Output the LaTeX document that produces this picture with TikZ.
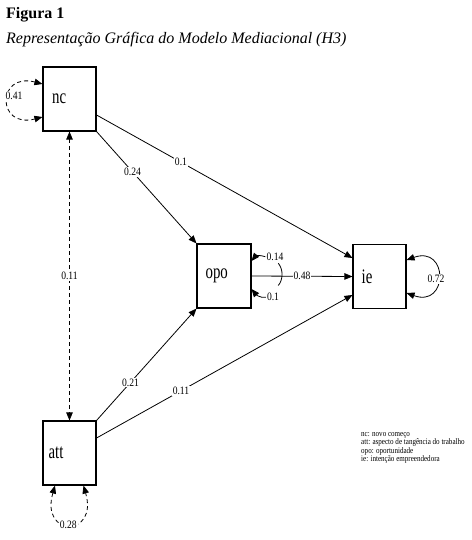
\documentclass[tikz,border=0pt]{standalone}
\usepackage{fontspec}
\setmainfont{Liberation Serif}
\newfontfamily\boxfont[FakeStretch=0.72]{Liberation Serif}
\newfontfamily\coeffont[FakeStretch=0.85]{Liberation Serif}
\newfontfamily\legfont[FakeStretch=0.83]{Liberation Serif}
\usetikzlibrary{arrows.meta,positioning}

\begin{document}
\begin{tikzpicture}[x=1pt,y=-1pt,>={Triangle[length=8pt,width=6.5pt]},
  var/.style={draw,line width=1.1pt,minimum width=53pt,minimum height=64pt,inner sep=0pt},
  vartext/.style={inner sep=0pt,font=\boxfont\fontsize{20.6}{22}\selectfont},
  coef/.style={fill=white,inner sep=1pt,font=\coeffont\fontsize{11.3}{12}\selectfont},
  effect/.style={->,line width=0.8pt},
  covar/.style={line width=0.8pt,dash pattern=on 4pt off 3pt},
  legtext/.style={anchor=base west,inner sep=0pt,font=\legfont\fontsize{8.5}{9}\selectfont}]
\useasboundingbox (0,0) rectangle (471,540);
\node[anchor=base west,inner sep=0pt,font=\bfseries\fontsize{16}{18}\selectfont] (fig) at (6,18.3) {Figura 1};
\node[anchor=base west,inner sep=0pt,font=\itshape\fontsize{16}{18}\selectfont] (tit) at (6,43.3) {Representação Gráfica do Modelo Mediacional (H3)};

\node[var] (nc) at (69.5,99) {};
\node[var] (att) at (69.5,453) {};
\node[var,minimum width=54pt] (opo) at (224,276) {};
\node[var] (ie) at (379.5,276.5) {};
\node[vartext,right=9.5pt of nc.west] (nc-t) {nc};
\node[vartext,right=6pt of att.west] (att-t) {att};
\node[vartext,right=9pt of opo.west] (opo-t) {opo};
\node[vartext,right=9pt of ie.west] (ie-t) {ie};

\draw[effect] (nc.south east) -- (opo.north west) node[coef,pos=0.36] {0.24};
\draw[effect] ([yshift=-16pt]nc.east) -- ([yshift=18.5pt]ie.west) node[coef,pos=0.33] {0.1};
\draw[effect] (opo.east) -- (ie.west) node[coef,midway] {0.48};
\draw[effect] (att.north east) -- (opo.south west) node[coef,pos=0.34] {0.21};
\draw[effect] ([yshift=15pt]att.east) -- ([yshift=-18.5pt]ie.west) node[coef,pos=0.33] {0.11};
\draw[covar,<->] (nc.south) -- (att.north) node[coef,midway] {0.11};

\draw[covar,<->] ([yshift=15pt]nc.west) .. controls +(-46,-12) and +(-46,12) .. ([yshift=-18pt]nc.west);
\node[coef] (e-nc) at (14,96) {0.41};
\draw[covar,<->] ([xshift=-14.5pt]att.south) .. controls +(-15,52) and +(15,52) .. ([xshift=14pt]att.south);
\node[coef] (e-att) at (68.3,525) {0.28};
\draw[effect,<->] ([yshift=16.5pt]ie.east) .. controls +(42,-15) and +(42,15) .. ([yshift=-16.5pt]ie.east);
\node[coef] (e-ie) at (436,279) {0.72};

\node[coef,fill=none] (e1-opo) at (275,256.7) {0.14};
\node[coef,fill=none] (e2-opo) at (273,297.3) {0.1};
\draw[effect] (e1-opo.west) .. controls +(-6,-2) and +(4,-5) .. ([yshift=15pt]opo.east);
\draw[effect] (e2-opo.west) .. controls +(-6,1) and +(4,5) .. ([yshift=-13pt]opo.east);
\coordinate (arc-a) at (278.3,263.3);
\coordinate (arc-b) at (278.3,285.5);
\draw[line width=0.8pt] (arc-a) .. controls +(5,6) and +(5,-6) .. (arc-b);

\foreach \t [count=\i] in {nc: novo começo, att: aspecto de tangência do trabalho, opo: oportunidade, ie: intenção empreendedora}
  \node[legtext] (leg-\i) at (361,{428.5+8.2*\i}) {\t};
\end{tikzpicture}
\end{document}
